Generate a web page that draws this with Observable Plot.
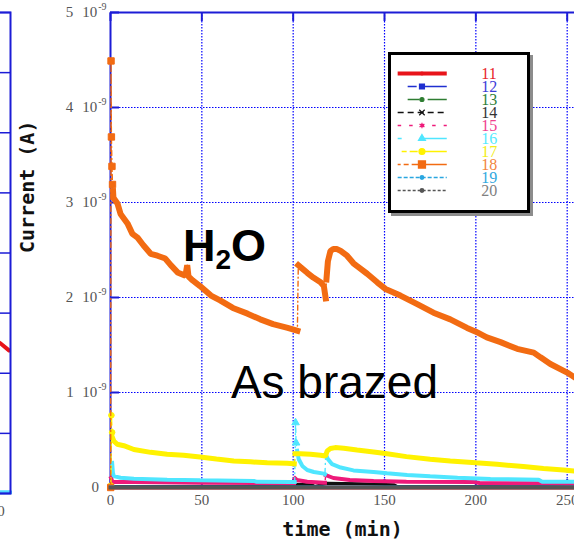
<!DOCTYPE html>
<html><head><meta charset="utf-8">
<script src="https://cdn.jsdelivr.net/npm/d3@7"></script>
<script src="https://cdn.jsdelivr.net/npm/@observablehq/plot@0.6"></script>
<style>
html,body{margin:0;padding:0;background:#fff;overflow:hidden;}
#wrap{position:relative;width:574px;height:547px;overflow:hidden;background:#fff;}
#wrap > svg{position:absolute;top:0;background:transparent;max-width:none;}
#legend{position:absolute;left:388px;top:52px;width:136px;height:155px;border:3px solid #000;box-shadow:3px 3px 0 #8c8c8c;background:#fff;}
#legend svg{display:block;background:transparent;max-width:none;}
</style>
</head><body><div id="wrap"><div id="legend"></div></div>
<script>
// ---------- data (current in units of 10^-9 A, time in min) ----------
const seriesNames = ["11","12","13","14","15","16","17","18","19","20"];
const xTicks = [0, 50, 100, 150, 200, 250];
const yTicks = [0, 1, 2, 3, 4, 5];
const xGrid = [50, 100, 150, 200, 250];
const yGrid = [1, 2, 3, 4];

// 18 (orange)
const t18s = [0.1, 0.3, 0.5, 0.8, 1.1];
const v18s = [0, 4.49, 3.69, 3.38, 3.19];
const t18a = [1.4, 1.6, 3.8, 5.5, 9.3, 12, 14.8, 18, 22, 25.7, 30, 33, 37, 41, 42, 42.7, 45, 49, 55, 60, 67, 75, 82, 89, 97, 102.3];
const v18a = [3.12, 3.05, 2.99, 2.88, 2.78, 2.67, 2.63, 2.55, 2.46, 2.44, 2.41, 2.34, 2.26, 2.23, 2.34, 2.22, 2.18, 2.12, 2.02, 1.97, 1.89, 1.83, 1.77, 1.72, 1.68, 1.65];
const t18b = [102.8, 104, 107.7, 111, 115, 116.8, 117.8];
const v18b = [2.34, 2.32, 2.26, 2.21, 2.16, 2.12, 1.99];
const t18c = [118.2, 119.0, 120.4, 122, 124, 126, 129.5, 133, 135, 140.5, 146, 150.5, 158.7, 167.9, 176.8, 186, 195.2, 200, 206, 213.5, 222.6, 231.7, 235.4, 240.8, 250, 254];
const v18c = [2.19, 2.38, 2.49, 2.51, 2.51, 2.49, 2.44, 2.36, 2.33, 2.25, 2.16, 2.09, 2.02, 1.93, 1.84, 1.77, 1.68, 1.64, 1.58, 1.53, 1.46, 1.42, 1.37, 1.30, 1.21, 1.16];

// 17 (yellow)
const t17s = [0.2, 0.5, 0.9];
const v17s = [0.02, 0.76, 0.58];
const t17a = [1.2, 1.8, 3.7, 7.3, 12.8, 22, 31, 40, 49, 58, 67.5, 76.6, 85.8, 96.7, 100.6];
const v17a = [0.52, 0.49, 0.455, 0.44, 0.40, 0.37, 0.35, 0.34, 0.32, 0.30, 0.28, 0.27, 0.26, 0.255, 0.25];
const t17b = [101, 104, 109.5, 115, 117.7, 118.6, 120.4, 123, 127.7, 135, 144, 150.5, 162, 175, 186, 200, 211.6, 226, 237, 248, 254];
const v17b = [0.355, 0.356, 0.35, 0.34, 0.33, 0.385, 0.41, 0.42, 0.413, 0.395, 0.374, 0.357, 0.325, 0.297, 0.28, 0.26, 0.245, 0.22, 0.20, 0.185, 0.174];

// 16 (cyan)
const t16a = [0.9, 1.3, 1.8, 5.5, 12.8, 31, 49, 78.5, 80, 98.5, 100.8];
const v16a = [0.26, 0.156, 0.12, 0.103, 0.093, 0.082, 0.076, 0.069, 0.06, 0.058, 0.058];
const t16s = [101.3, 101.6];
const v16s = [0.683, 0.47];
const t16b = [102.2, 103, 105, 107.7, 111.3, 116.8, 117.4];
const v16b = [0.385, 0.30, 0.227, 0.184, 0.163, 0.146, 0.14];
const t16c = [117.8, 119, 121.3, 126, 133, 144, 151.4, 162.4, 175, 190, 208, 234.4, 236.3, 254];
const v16c = [0.35, 0.30, 0.245, 0.21, 0.18, 0.163, 0.15, 0.132, 0.118, 0.103, 0.09, 0.082, 0.061, 0.061];

// 15 (pink)
const t15a = [0.3, 0.6, 1.0, 12.8, 49, 100.5];
const v15a = [0.1, 0.086, 0.058, 0.058, 0.05, 0.044];
const t15b = [101, 102, 107.7, 116.8, 117.4];
const v15b = [0.097, 0.079, 0.061, 0.05, 0.05];
const t15c = [117.8, 122, 131, 144, 162, 199, 202, 235, 254];
const v15c = [0.13, 0.10, 0.079, 0.069, 0.061, 0.058, 0.047, 0.044, 0.04];

// 14 (black)
const t14 = [0, 100, 101.5, 110, 112, 118.5, 137, 155, 157, 254];
const v14 = [0.01, 0.01, 0.035, 0.03, 0.01, 0.045, 0.04, 0.03, 0.01, 0.01];

// 11, 12, 13, 19, 20 stay at zero
const tFlat = [0, 254];
const vFlat = [0, 0];
const v19 = [0.005, 0.005];

// partial neighbouring chart at the left edge
const leftXTicks = [0, 50, 100, 150, 200, 250];
const leftYTicks = [0, 0.5, 1, 1.5, 2, 2.5, 3, 3.5, 4];
const leftRedT = [250, 257, 266];
const leftRedV = [1.28, 1.25, 1.19];
const leftCyanT = [240, 267.6];
const leftCyanV = [0.01, 0.01];

// annotations
const noteBold = [{t: 62.4, v: 2.54, label: "H2O"}];
const notePlain = [{t: 122.6, v: 1.10, label: "As brazed"}];

// ---------- styles ----------
const lineColors = ["#e8141a","#1f2fd0","#2e7d32","#111111","#ee1a7a","#4fe6ff","#fff200","#f26b12","#2aa6e0","#555555"];
const labelColors = ["#e8242a","#3b3bd8","#2f7f3a","#333333","#f0408f","#55eaff","#f2ee1c","#f28440","#30a8e0","#808080"];
const lineWidths = [4, 3, 3, 3, 4, 4, 5, 6, 3, 4];
const lineDashes = ["none","6,3,2,3","12,6","5,4","3,6","4,4,1,4","8,4","5,3,1,3","4,2","3,2"];
const symbols = ["circle","square","circle","times","asterisk","triangle","circle","square","circle","circle"];
const legendDash = ["none","0,10,9,3,60","0,10,12,8,40","6,4","3.5,8","4,18,40","0,4,5,3,8,3,40","3,3,5,3,60","4,2","3,2"];
const legendWidth = [4,1.6,1.6,1.6,1.6,1.6,1.6,1.6,1.6,1.6];
const legendR = [1.5, 2.8, 2, 2.6, 2.6, 2.6, 3, 4, 1.8, 1.8];

const blue = "#1c1cd6";
const tickGray = "#555";
const serif = "'Liberation Serif', 'DejaVu Serif', serif";
const mono = "'DejaVu Sans Mono', 'Liberation Mono', monospace";

// ---------- assemble ----------
const zip = (t, v) => t.map((tt, i) => ({t: tt, v: v[i]}));
const seriesParts = {
  "11": {main: [zip(tFlat, vFlat)], spikes: []},
  "12": {main: [zip(tFlat, vFlat)], spikes: []},
  "13": {main: [zip(tFlat, vFlat)], spikes: []},
  "14": {main: [zip(t14, v14)], spikes: []},
  "15": {main: [zip(t15a, v15a), zip(t15b, v15b), zip(t15c, v15c)], spikes: []},
  "16": {main: [zip(t16a, v16a), zip(t16b, v16b), zip(t16c, v16c)], spikes: [zip(t16s, v16s)]},
  "17": {main: [zip(t17a, v17a), zip(t17b, v17b)], spikes: [zip(t17s, v17s)]},
  "18": {main: [zip(t18a, v18a), zip(t18b, v18b), zip(t18c, v18c)], spikes: [zip(t18s, v18s)]},
  "19": {main: [zip(tFlat, v19)], spikes: []},
  "20": {main: [zip(tFlat, vFlat)], spikes: []}
};

const dataMarks = [];
seriesNames.forEach((name, i) => {
  const p = seriesParts[name];
  const segRows = p.main.flatMap((seg, j) => seg.map(d => ({...d, seg: j})));
  const spikeRows = p.spikes.flat();
  const all = segRows.concat(spikeRows).slice().sort((a, b) => a.t - b.t);
  dataMarks.push(Plot.line(all, {x: "t", y: "v", stroke: lineColors[i], strokeWidth: 1.4,
    strokeDasharray: lineDashes[i] === "none" ? "4,3" : lineDashes[i]}));
  dataMarks.push(Plot.line(segRows, {x: "t", y: "v", z: "seg", stroke: lineColors[i], strokeWidth: lineWidths[i],
    strokeLinejoin: "miter", strokeLinecap: "square"}));
  if (spikeRows.length) {
    dataMarks.push(Plot.dot(spikeRows, {x: "t", y: "v", symbol: symbols[i], r: name === "18" ? 3.6 : 2.8,
      fill: lineColors[i], stroke: lineColors[i], strokeWidth: 1}));
  }
});

const main = Plot.plot({
  width: 574, height: 547,
  marginLeft: 110, marginTop: 12, marginRight: 0, marginBottom: 60,
  style: {background: "transparent"},
  x: {domain: [0, 254]},
  y: {domain: [0, 5]},
  marks: [
    Plot.gridX(xGrid, {stroke: "#0000ff", strokeOpacity: 1, strokeWidth: 1.2, strokeDasharray: "1.5,1.5"}),
    Plot.gridY(yGrid, {stroke: "#0000ff", strokeOpacity: 1, strokeWidth: 1.2, strokeDasharray: "1.5,1.5"}),
    Plot.ruleX([0], {stroke: blue, strokeWidth: 2}),
    Plot.ruleY([0, 5], {stroke: blue, strokeWidth: 2}),
    Plot.axisY({ticks: yTicks, tickSize: -9, tickFormat: () => "", stroke: blue, strokeWidth: 2, label: null}),
    Plot.axisX({ticks: xTicks, tickSize: -8, tickFormat: () => "", stroke: blue, strokeWidth: 2, label: null}),
    Plot.axisX({anchor: "top", ticks: xTicks, tickSize: -8, tickFormat: () => "", stroke: blue, strokeWidth: 2, label: null}),
    ...dataMarks,
    Plot.axisY({ticks: yTicks, tickSize: 0, tickPadding: 4, color: tickGray, fontFamily: serif, fontSize: 15,
      tickFormat: d => d === 0 ? "0\u2007" : d + "|", label: null}),
    Plot.axisX({ticks: xTicks, tickSize: 0, tickPadding: 7, color: tickGray, fontFamily: serif, fontSize: 15, label: null}),
    Plot.text(["time (min)"], {frameAnchor: "bottom", dy: 48, fontFamily: mono, fontWeight: "bold", fontSize: 20, fill: "#111"}),
    Plot.text(["Current (A)"], {frameAnchor: "left", dx: -83, dy: 3, rotate: -90, fontFamily: mono, fontWeight: "bold", fontSize: 20, fill: "#111"}),
    Plot.text(noteBold, {x: "t", y: "v", text: "label", fontFamily: "'Liberation Sans', Arial, sans-serif", fontWeight: "bold", fontSize: 45, fill: "#000"}),
    Plot.text(notePlain, {x: "t", y: "v", text: "label", fontFamily: "'Liberation Sans', Arial, sans-serif", fontSize: 46, fill: "#000"})
  ]
});

// superscript exponents on the y tick labels and subscript in H2O
d3.select(main).selectAll("text").each(function () {
  const el = d3.select(this);
  const s = this.textContent;
  const m = /^(\d)\|$/.exec(s);
  if (m) {
    el.text(null);
    el.append("tspan").text(m[1]);
    el.append("tspan").attr("dx", 9).text("10");
    el.append("tspan").attr("dx", 1).attr("dy", -7).attr("font-size", 10).text("-9");
  } else if (s === "H2O") {
    el.text(null);
    el.append("tspan").text("H");
    el.append("tspan").attr("dy", 8).attr("font-size", 28).text("2");
    el.append("tspan").attr("dy", -8).text("O");
  }
});

const left = Plot.plot({
  width: 320, height: 547,
  marginLeft: 60, marginRight: 2, marginTop: 12, marginBottom: 54,
  style: {background: "transparent"},
  x: {domain: [0, 267.6]},
  y: {domain: [0, 4]},
  marks: [
    Plot.line(zip(leftCyanT, leftCyanV), {x: "t", y: "v", stroke: "#4fd8ff", strokeWidth: 4}),
    Plot.line(zip(leftRedT, leftRedV), {x: "t", y: "v", stroke: "#e8141a", strokeWidth: 4}),
    Plot.frame({stroke: blue, strokeWidth: 2}),
    Plot.axisY({anchor: "right", ticks: leftYTicks, tickSize: -12, tickFormat: () => "", stroke: blue, strokeWidth: 1.5, label: null}),
    Plot.axisX({ticks: leftXTicks, tickSize: 0, tickPadding: 12, color: tickGray, fontFamily: serif, fontSize: 15, label: null})
  ]
});
left.style.left = "-308px";

// legend
const legend = Plot.plot({
  width: 136, height: 155,
  marginLeft: 0, marginRight: 0, marginTop: 0, marginBottom: 0,
  style: {background: "transparent"},
  x: {domain: [0, 1], axis: null},
  y: {type: "point", domain: seriesNames, range: [11.7, 142], axis: null},
  r: {type: "identity"},
  marks: [
    ...seriesNames.map((name, i) => Plot.ruleY([name], {y: d => d, x1: 0.049, x2: 0.41, stroke: lineColors[i],
      strokeWidth: legendWidth[i], strokeDasharray: legendDash[i] === "none" ? null : legendDash[i]})),
    ...seriesNames.map((name, i) => Plot.dot([name], {x: 0.224, y: d => d, symbol: symbols[i], r: legendR[i],
      fill: lineColors[i], stroke: lineColors[i], strokeWidth: 1.2})),
    Plot.text(seriesNames, {x: 0.66, y: d => d, text: d => d, textAnchor: "start",
      fill: (d, i) => labelColors[i], fontFamily: serif, fontSize: 16})
  ]
});

const wrap = document.getElementById("wrap");
wrap.insertBefore(main, wrap.firstChild);
wrap.insertBefore(left, main.nextSibling);
document.getElementById("legend").appendChild(legend);
</script>
</body></html>
